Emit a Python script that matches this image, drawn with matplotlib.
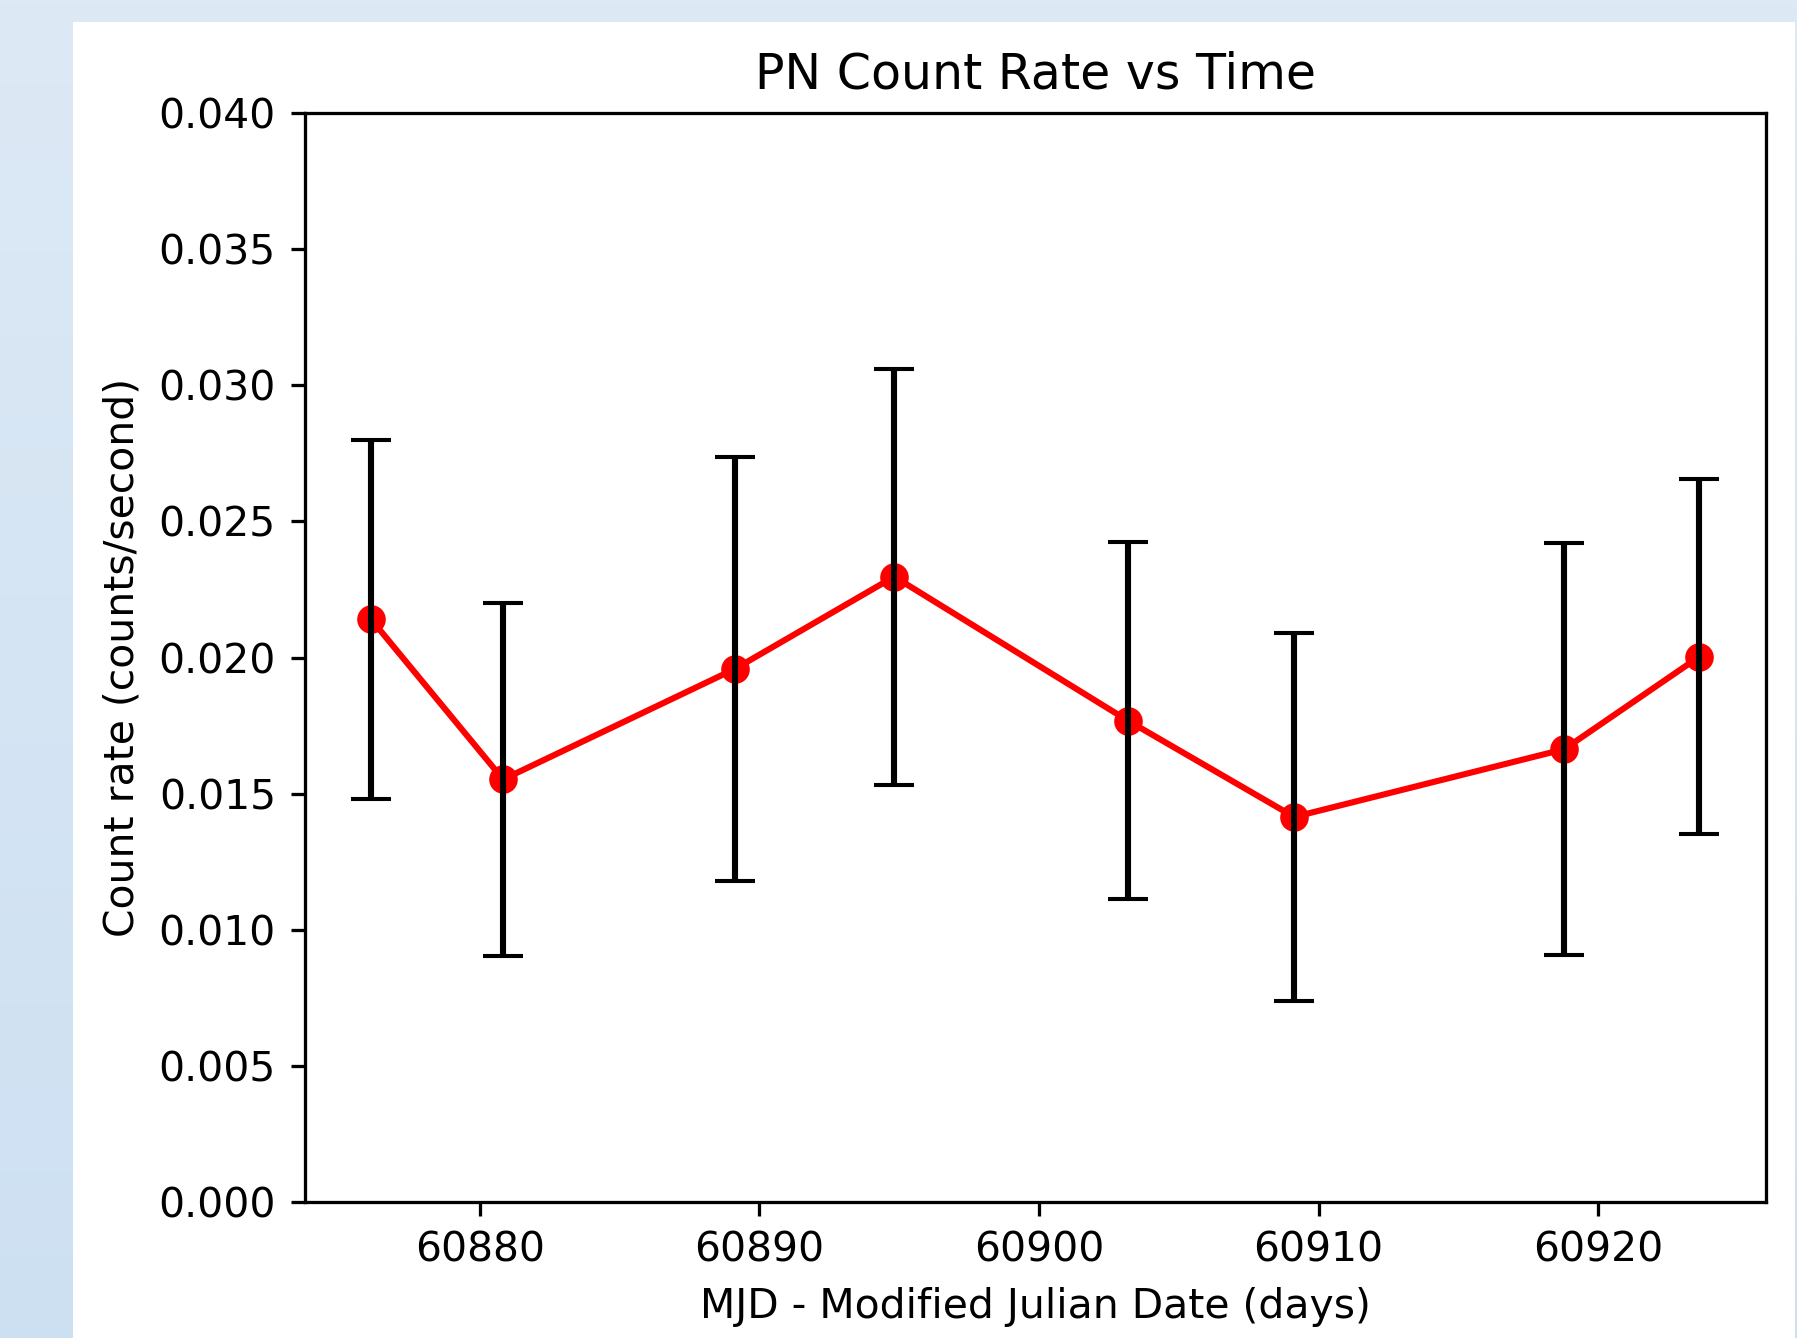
import matplotlib
matplotlib.use("Agg")
import matplotlib.pyplot as plt
import numpy as np
from matplotlib.patches import Rectangle

# PN light curve values
mjd = [60876.10, 60880.83, 60889.12, 60894.82, 60903.18, 60909.13, 60918.79, 60923.62]
rate = [0.02141, 0.01552, 0.01958, 0.02297, 0.01768, 0.01414, 0.01663, 0.02003]
rate_err = [0.0066, 0.0065, 0.0078, 0.00765, 0.00656, 0.00677, 0.00756, 0.00652]

W, H = 1797, 1338
DPI = 294
fig = plt.figure(figsize=(W / DPI, H / DPI), dpi=DPI)

# light blue page behind the figure (screenshot border)
bg = fig.add_axes([0, 0, 1, 1], zorder=-10)
grad = np.linspace(0, 1, 256).reshape(-1, 1)
top = np.array([221, 233, 245]) / 255
bot = np.array([205, 224, 242]) / 255
img = top + grad[..., None] * (bot - top)
bg.imshow(img, aspect='auto', extent=[0, 1, 0, 1], origin='upper')
bg.add_patch(Rectangle((73 / W, 0), (1795 - 73) / W, 1 - 22 / H,
                       facecolor='white', edgecolor='none'))
bg.set_xlim(0, 1)
bg.set_ylim(0, 1)
bg.axis('off')

ax = fig.add_axes([304.5 / W, 1 - 1201.7 / H, (1765.7 - 304.5) / W, (1201.7 - 113.3) / H])
ax.plot(mjd, rate, 'o-', color='red', zorder=2)
ax.errorbar(mjd, rate, yerr=rate_err, fmt='none', ecolor='black', capsize=5, zorder=3)

ax.set_ylim(0, 0.04)
ax.set_title('PN Count Rate vs Time')
ax.set_xlabel('MJD - Modified Julian Date (days)')
ax.set_ylabel('Count rate (counts/second)')

fig.savefig('out.png', dpi=DPI)
